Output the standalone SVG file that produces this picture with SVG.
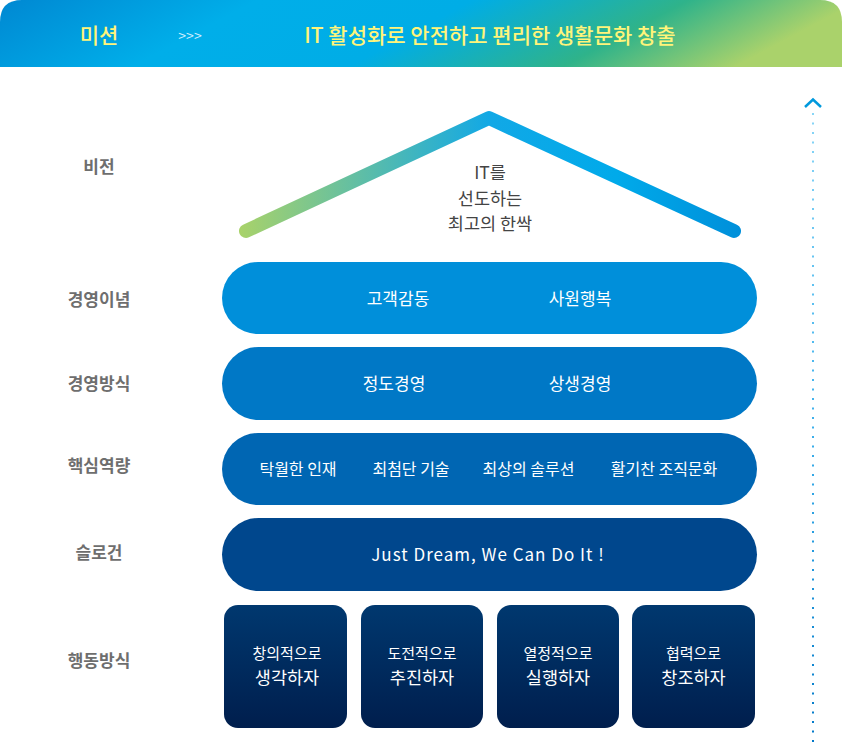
<svg xmlns="http://www.w3.org/2000/svg" width="842" height="744" viewBox="0 0 842 744">
<defs>
<linearGradient id="hdr" x1="0" y1="0" x2="1" y2="0.15">
<stop offset="0" stop-color="#0088d2"/>
<stop offset="0.3" stop-color="#00aee9"/>
<stop offset="0.55" stop-color="#00ade6"/>
<stop offset="0.8" stop-color="#2fb38a"/>
<stop offset="1" stop-color="#aad26b"/>
</linearGradient>
<linearGradient id="roof" gradientUnits="userSpaceOnUse" x1="240" y1="0" x2="742" y2="0">
<stop offset="0" stop-color="#a8d26a"/>
<stop offset="0.5" stop-color="#11a8e6"/>
<stop offset="0.75" stop-color="#00aaea"/>
<stop offset="1" stop-color="#008fda"/>
</linearGradient>
<linearGradient id="box" x1="0" y1="0" x2="0" y2="1">
<stop offset="0" stop-color="#00386f"/>
<stop offset="1" stop-color="#001e4d"/>
</linearGradient>
<linearGradient id="dots" gradientUnits="userSpaceOnUse" x1="0" y1="110" x2="0" y2="744">
<stop offset="0" stop-color="#8ad6f7"/>
<stop offset="0.5" stop-color="#3cb0ec"/>
<stop offset="1" stop-color="#0078c8"/>
</linearGradient>
<style>
text{font-family:"Noto Sans CJK KR","Noto Sans",sans-serif;text-anchor:middle}
.lbl{font-size:17px;font-weight:700;fill:#6e6e6e}
.w{fill:#ffffff;font-size:17px}
.w3{fill:#ffffff;font-size:16px}
.b1{fill:#ffffff;font-size:15px}
.b2{fill:#ffffff;font-size:17.5px}
.hd{fill:#fff47a;font-size:21px;font-weight:500}
.v{fill:#444;font-size:17.5px}
</style>
</defs>
<g id="header">
<path d="M0,67 L0,22 Q0,0 22,0 L820,0 Q842,0 842,22 L842,67 Z" fill="url(#hdr)"/>
<text class="hd" x="99" y="43">미션</text>
<text x="190" y="41" style="font-size:14px;fill:#d6f0ff">&gt;&gt;&gt;</text>
<text class="hd" x="490" y="43">IT 활성화로 안전하고 편리한 생활문화 창출</text>
</g>
<g id="labels">
<text class="lbl" x="99" y="173">비전</text>
<text class="lbl" x="99" y="306">경영이념</text>
<text class="lbl" x="99" y="390">경영방식</text>
<text class="lbl" x="99" y="472">핵심역량</text>
<text class="lbl" x="99" y="559">슬로건</text>
<text class="lbl" x="99" y="667">행동방식</text>
</g>
<g id="connectors">
<line x1="813" y1="113" x2="813" y2="744" stroke="url(#dots)" stroke-width="2" stroke-dasharray="2 7.5"/>
<polyline points="805,107 813,99.5 821,107" fill="none" stroke="#0099dd" stroke-width="2.5"/>
</g>
<g id="vision">
<polyline points="246,231 489,118 734,231" fill="none" stroke="url(#roof)" stroke-width="14" stroke-linecap="round" stroke-linejoin="round"/>
<text class="v" x="490" y="179">IT를</text>
<text class="v" x="490" y="204.5">선도하는</text>
<text class="v" x="490" y="230">최고의 한싹</text>
</g>
<g id="philosophy">
<rect x="222" y="262" width="535" height="72" rx="36" fill="#008fda"/>
<text class="w" x="398" y="304.5">고객감동</text>
<text class="w" x="580" y="304.5">사원행복</text>
</g>
<g id="management">
<rect x="222" y="347" width="535" height="73" rx="36.5" fill="#0078c6"/>
<text class="w" x="394" y="389.5">정도경영</text>
<text class="w" x="580" y="389.5">상생경영</text>
</g>
<g id="competency">
<rect x="222" y="433" width="535" height="72" rx="36" fill="#0066b3"/>
<text class="w3" x="298" y="475">탁월한 인재</text>
<text class="w3" x="411" y="475">최첨단 기술</text>
<text class="w3" x="528.5" y="475">최상의 솔루션</text>
<text class="w3" x="664" y="475">활기찬 조직문화</text>
</g>
<g id="slogan">
<rect x="222" y="518" width="535" height="73" rx="36.5" fill="#00478d"/>
<text x="488" y="560.5" style="fill:#fff;font-size:17px;letter-spacing:1px">Just Dream, We Can Do It !</text>
</g>
<g id="act1">
<rect x="224" y="605" width="123" height="123" rx="14" fill="url(#box)"/>
<text class="b1" x="287" y="658.5">창의적으로</text>
<text class="b2" x="287" y="684">생각하자</text>
</g>
<g id="act2">
<rect x="361" y="605" width="122" height="123" rx="14" fill="url(#box)"/>
<text class="b1" x="422" y="658.5">도전적으로</text>
<text class="b2" x="422" y="684">추진하자</text>
</g>
<g id="act3">
<rect x="497" y="605" width="122" height="123" rx="14" fill="url(#box)"/>
<text class="b1" x="558" y="658.5">열정적으로</text>
<text class="b2" x="558" y="684">실행하자</text>
</g>
<g id="act4">
<rect x="632" y="605" width="123" height="123" rx="14" fill="url(#box)"/>
<text class="b1" x="693.5" y="658.5">협력으로</text>
<text class="b2" x="693.5" y="684">창조하자</text>
</g>
</svg>
